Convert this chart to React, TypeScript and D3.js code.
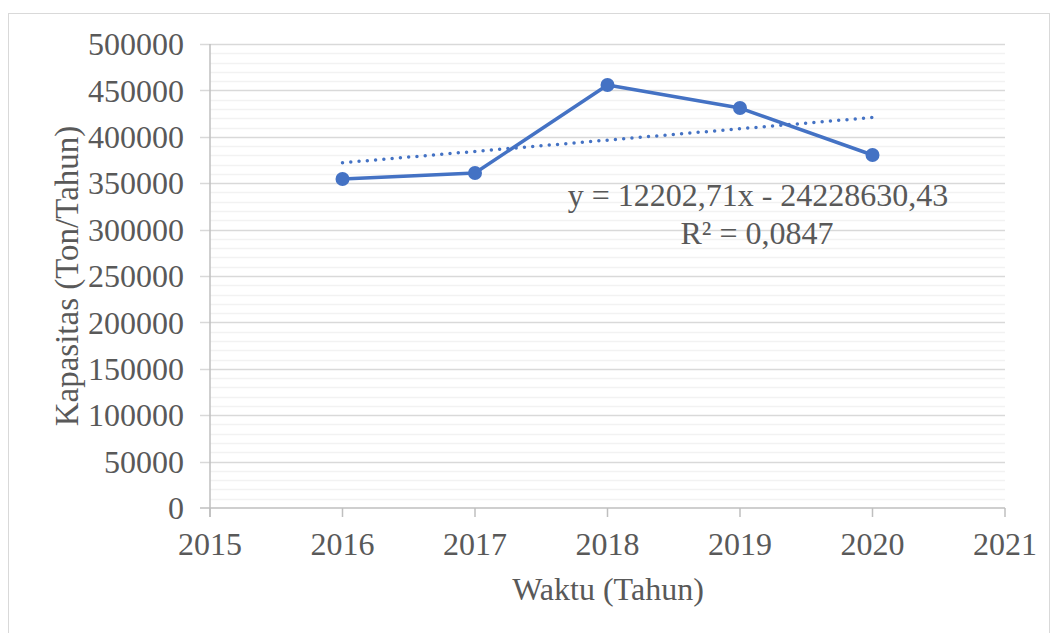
import React from "react"
import * as d3 from "d3"

// values
const years = [2016, 2017, 2018, 2019, 2020]
const capacity = [354500, 361000, 455800, 431000, 380400]
const yTicks = [0, 50000, 100000, 150000, 200000, 250000, 300000, 350000, 400000, 450000, 500000]
const xTicks = [2015, 2016, 2017, 2018, 2019, 2020, 2021]
// linear trend shown on the chart
const trendSlope = 12202.71
const trendIntercept = -24228630.43
const equationLines = ["y = 12202,71x - 24228630,43", "R² = 0,0847"]

const W = 1055
const H = 633
const font = "'Liberation Serif', 'Times New Roman', serif"
const textColor = "#595959"
const blue = "#4472C4"
const fs = 32

export default function App() {
  const x = d3.scaleLinear().domain([2015, 2021]).range([210, 1005])
  const y = d3.scaleLinear().domain([0, 500000]).range([508, 44])

  // minor grid every 10000
  const minor = d3.range(0, 500001, 10000).filter(v => v % 50000 !== 0)

  const line = d3.line<number>()
    .x((d, i) => x(years[i]))
    .y(d => y(d))

  const trendX = [years[0], years[years.length - 1]]
  const trend = d3.line<number>()
    .x(d => x(d))
    .y(d => y(trendSlope * d + trendIntercept))

  return (
    <svg width={W} height={H} style={{ position: "absolute", left: 0, top: 0, background: "#fff" }}
      fontFamily={font}>
      <rect x={8.5} y={13.5} width={1041} height={640} fill="#fff" stroke="#d9d9d9" />

      {minor.map(v => (
        <line key={"m" + v} x1={x(2015)} x2={x(2021)} y1={Math.round(y(v)) + 0.5} y2={Math.round(y(v)) + 0.5}
          stroke="#f2f2f2" strokeWidth={1.3} />
      ))}
      {yTicks.filter(v => v > 0).map(v => (
        <line key={"g" + v} x1={200} x2={x(2021)} y1={Math.round(y(v)) + 0.5} y2={Math.round(y(v)) + 0.5}
          stroke="#d9d9d9" strokeWidth={1.5} />
      ))}

      {/* axes */}
      <line x1={x(2015)} x2={x(2015)} y1={y(500000)} y2={y(0) + 9} stroke="#bfbfbf" strokeWidth={1.5} />
      <line x1={200} x2={x(2021)} y1={y(0)} y2={y(0)} stroke="#bfbfbf" strokeWidth={1.5} />
      {xTicks.map(t => (
        <line key={"xt" + t} x1={x(t)} x2={x(t)} y1={y(0)} y2={y(0) + 9} stroke="#bfbfbf" strokeWidth={1.5} />
      ))}

      {yTicks.map(v => (
        <text key={"yl" + v} x={184} y={y(v)} dy="0.35em" textAnchor="end" fontSize={fs} fill={textColor}>
          {v}
        </text>
      ))}
      {xTicks.map(t => (
        <text key={"xl" + t} x={x(t)} y={555} textAnchor="middle" fontSize={fs} fill={textColor}>
          {t}
        </text>
      ))}

      <text x={608} y={600} textAnchor="middle" fontSize={fs} fill={textColor}>Waktu (Tahun)</text>
      <text transform={`translate(78,${y(250000)}) rotate(-90)`} textAnchor="middle" fontSize={33} fill={textColor}>
        Kapasitas (Ton/Tahun)
      </text>

      {/* trendline */}
      <path d={trend(trendX) || ""} fill="none" stroke={blue} strokeWidth={3.5}
        strokeDasharray="0 8.3" strokeLinecap="round" />

      {/* series */}
      <path d={line(capacity) || ""} fill="none" stroke={blue} strokeWidth={3.5} strokeLinejoin="round" />
      {capacity.map((v, i) => (
        <circle key={"p" + i} cx={x(years[i])} cy={y(v)} r={7} fill={blue} />
      ))}

      <text x={758} y={206} textAnchor="middle" fontSize={fs} fill={textColor}>{equationLines[0]}</text>
      <text x={757} y={244} textAnchor="middle" fontSize={fs} fill={textColor}>{equationLines[1]}</text>
    </svg>
  )
}
